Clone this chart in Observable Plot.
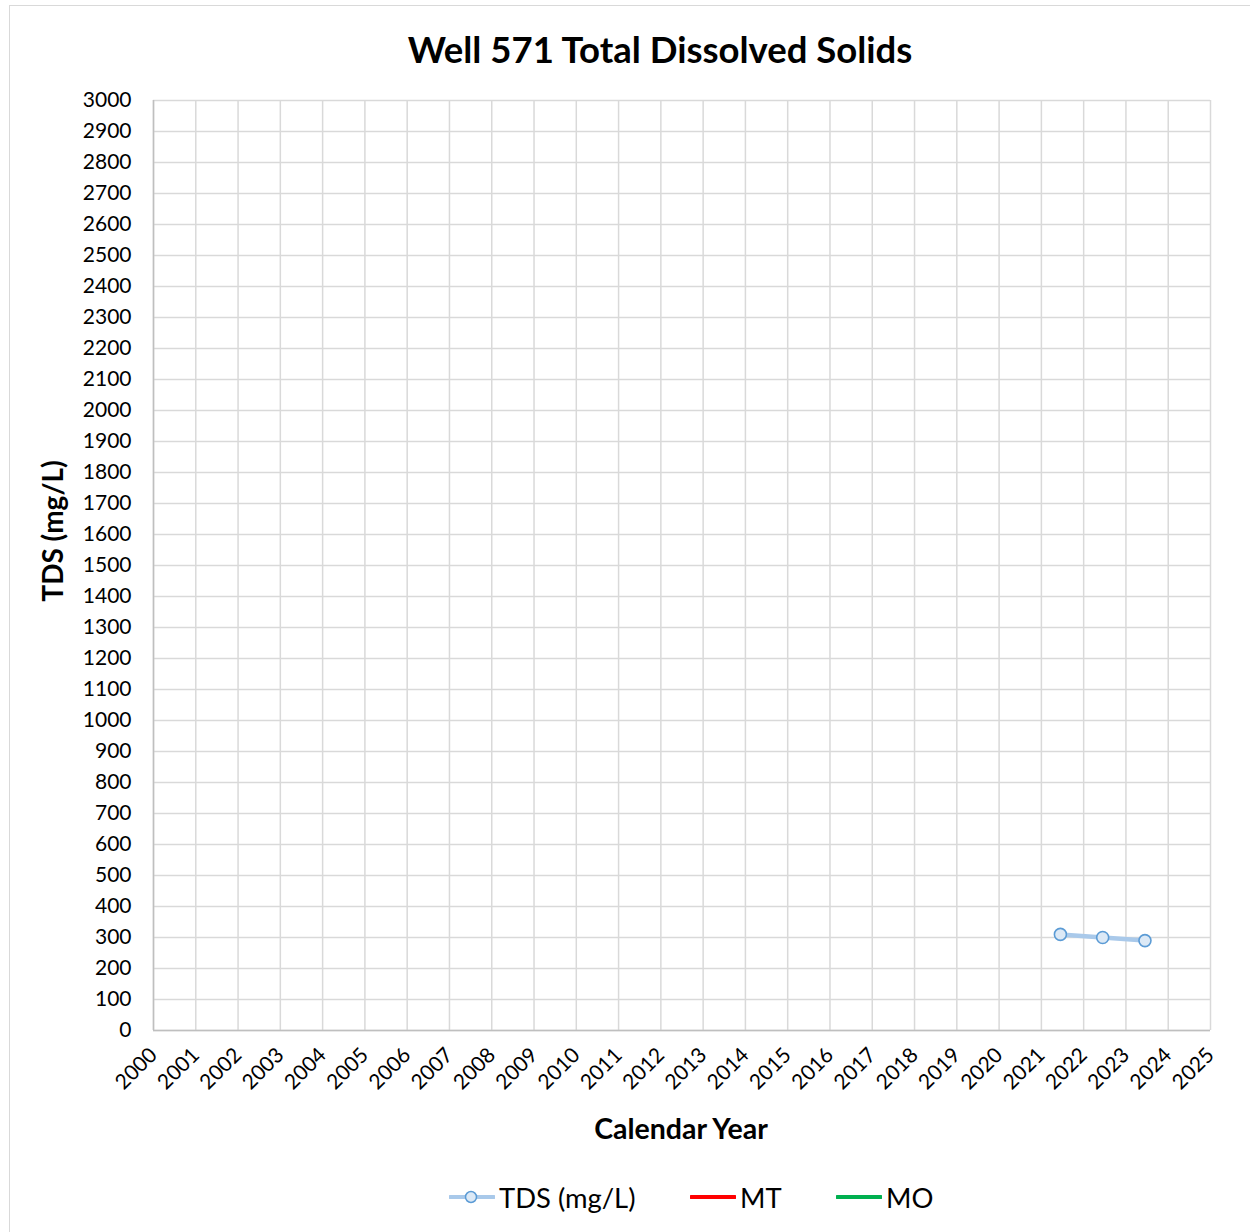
<!DOCTYPE html>
<html>
<head>
<meta charset="utf-8">
<script src="https://cdn.jsdelivr.net/npm/d3@7"></script>
<script src="https://cdn.jsdelivr.net/npm/@observablehq/plot@0.6"></script>
<style>
  html, body { margin: 0; padding: 0; background: #fff; overflow: hidden; width: 1250px; height: 1232px; }
  body { position: relative; font-family: Lato, "Open Sans", sans-serif; color: #000; }
  #frame { position: absolute; left: 9px; top: 5px; width: 1280px; height: 1280px; border: 1.5px solid #d9d9d9; box-sizing: border-box; }
  #title { position: absolute; left: 0; width: 1320px; top: 27px; text-align: center; font-weight: 700; font-size: 36.5px; line-height: 44px; }
  #chart { position: absolute; left: 0; top: 80px; }
  #ylabel { position: absolute; left: 52px; top: 531px; transform: translate(-50%, -50%) rotate(-90deg); font-weight: 700; font-size: 28px; white-space: nowrap; }
  #xlabel { position: absolute; left: 681px; top: 1128px; transform: translate(-50%, -50%); font-weight: 700; font-size: 28.5px; white-space: nowrap; }
  #legend { position: absolute; top: 1179px; left: 0; width: 1250px; height: 36px; font-size: 27.4px; }
  .item { position: absolute; top: 0; display: flex; align-items: center; height: 36px; }
  .item svg { margin-right: 4px; }
</style>
</head>
<body>
<div id="frame"></div>
<div id="title">Well 571 Total Dissolved Solids</div>
<div id="chart"></div>
<div id="ylabel">TDS (mg/L)</div>
<div id="xlabel">Calendar Year</div>
<div id="legend"></div>
<script>
// Data
const sampleYears = [2021.45, 2022.45, 2023.45];
const tdsValues = [310, 300, 290];
const yearTicks = d3.range(2000, 2026);
const tdsTicks = d3.range(0, 3001, 100);
const legendLabels = ["TDS (mg/L)", "MT", "MO"];
const legendColors = ["#a9c9ea", "#ff0000", "#00b050"];

const data = sampleYears.map((x, i) => ({ year: x, tds: tdsValues[i] }));

const chart = Plot.plot({
  width: 1250,
  height: 1070,
  marginLeft: 153,
  marginRight: 40,
  marginTop: 20,
  marginBottom: 120,
  style: { fontFamily: "Lato, 'Open Sans', sans-serif", fontSize: "21px", color: "#000", background: "transparent" },
  x: { domain: [2000, 2025], ticks: yearTicks, tickFormat: d3.format("d"), label: null },
  y: { domain: [0, 3000], ticks: tdsTicks, tickFormat: d3.format("d"), label: null },
  marks: [
    Plot.gridX(yearTicks, { stroke: "#d9d9d9", strokeOpacity: 1, strokeWidth: 1.5 }),
    Plot.gridY(tdsTicks, { stroke: "#d9d9d9", strokeOpacity: 1, strokeWidth: 1.5 }),
    Plot.ruleY([0], { stroke: "#bfbfbf", strokeWidth: 1.5 }),
    Plot.ruleX([2000], { stroke: "#bfbfbf", strokeWidth: 1.5 }),
    Plot.axisY({ ticks: tdsTicks, tickSize: 0, tickPadding: 22, tickFormat: d3.format("d"), label: null, fontSize: 21 }),
    Plot.axisX({ ticks: yearTicks, tickSize: 0, tickPadding: 21, tickRotate: -45, tickFormat: d3.format("d"), label: null, fontSize: 21 }),
    Plot.line(data, { x: "year", y: "tds", stroke: "#a9c9ea", strokeWidth: 4.5 }),
    Plot.dot(data, { x: "year", y: "tds", r: 6, fill: "#dce9f6", stroke: "#5b9bd5", strokeWidth: 1.6 })
  ]
});
document.getElementById("chart").appendChild(chart);

// Legend
const legend = document.getElementById("legend");
const legendX = [449, 690, 836];
legendLabels.forEach((lab, i) => {
  const it = document.createElement("div");
  it.className = "item";
  it.style.left = legendX[i] + "px";
  const sw = d3.create("svg").attr("width", 46).attr("height", 20);
  sw.append("line").attr("x1", 1).attr("x2", 45).attr("y1", 10).attr("y2", 10)
    .attr("stroke", legendColors[i]).attr("stroke-width", 4).attr("stroke-linecap", "round");
  if (i === 0) {
    sw.append("circle").attr("cx", 22).attr("cy", 10).attr("r", 5.5)
      .attr("fill", "#dce9f6").attr("stroke", "#5b9bd5").attr("stroke-width", 1.5);
  }
  it.appendChild(sw.node());
  const t = document.createElement("span");
  t.textContent = lab;
  it.appendChild(t);
  legend.appendChild(it);
});
</script>
</body>
</html>
